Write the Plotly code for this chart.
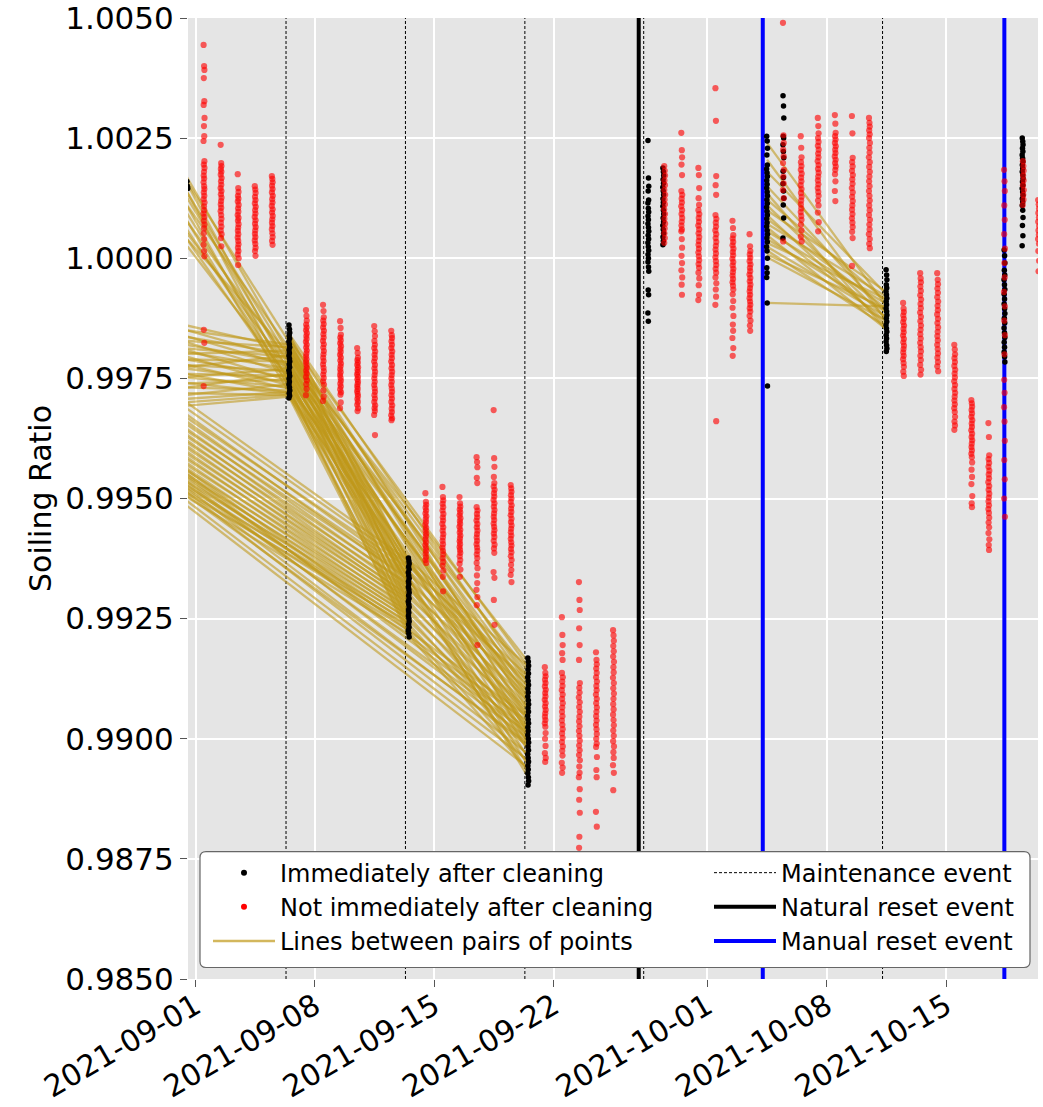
import plotly.graph_objects as go
from datetime import datetime, timedelta

# ---------------- data ----------------
# Soiling ratio samples taken during the day (value lists, one per day)
black_0831 = [1.00160, 1.00150, 1.00145]
red_0901 = [1.00444, 1.00400, 1.00392, 1.00375, 1.00327, 1.00319, 1.00292, 1.00275, 1.00254, 1.00244,
            1.00202, 1.00195, 1.00188, 1.00180, 1.00172, 1.00166, 1.00158, 1.00150, 1.00144, 1.00137,
            1.00130, 1.00123, 1.00116, 1.00108, 1.00100, 1.00093, 1.00086, 1.00078, 1.00070, 1.00062,
            1.00052, 1.00040, 1.00028, 1.00015, 1.00004, 0.99851, 0.99824, 0.99734]
red_0902 = [1.00236, 1.00198, 1.00192, 1.00186, 1.00180, 1.00174, 1.00167, 1.00160, 1.00153, 1.00146,
            1.00140, 1.00133, 1.00126, 1.00119, 1.00112, 1.00105, 1.00098, 1.00090, 1.00082, 1.00074,
            1.00066, 1.00058, 1.00050, 1.00042, 1.00025]
red_0903 = [1.00175, 1.00146, 1.00138, 1.00130, 1.00124, 1.00118, 1.00111, 1.00104, 1.00097, 1.00090,
            1.00084, 1.00078, 1.00071, 1.00064, 1.00057, 1.00050, 1.00043, 1.00036, 1.00029, 1.00022,
            1.00015, 1.00008, 1.00000, 0.99986]
red_0904 = [1.00150, 1.00143, 1.00136, 1.00128, 1.00121, 1.00114, 1.00107, 1.00100, 1.00093, 1.00086,
            1.00079, 1.00072, 1.00065, 1.00058, 1.00051, 1.00044, 1.00037, 1.00030, 1.00022, 1.00015, 1.00005]
red_0905 = [1.00171, 1.00165, 1.00158, 1.00151, 1.00144, 1.00137, 1.00130, 1.00123, 1.00116, 1.00109,
            1.00102, 1.00095, 1.00088, 1.00081, 1.00074, 1.00067, 1.00060, 1.00052, 1.00044, 1.00036, 1.00028]
black_0906 = [0.99861, 0.99852, 0.99845, 0.99839, 0.99833, 0.99827, 0.99821, 0.99815, 0.99809, 0.99803,
              0.99797, 0.99791, 0.99785, 0.99779, 0.99773, 0.99767, 0.99761, 0.99755, 0.99749, 0.99743,
              0.99737, 0.99731, 0.99725, 0.99719, 0.99714, 0.99709]
red_0907 = [0.99892, 0.99880, 0.99870, 0.99862, 0.99856, 0.99850, 0.99844, 0.99838, 0.99832, 0.99826,
            0.99820, 0.99814, 0.99808, 0.99802, 0.99796, 0.99790, 0.99784, 0.99778, 0.99772, 0.99766,
            0.99760, 0.99753, 0.99746, 0.99738, 0.99728, 0.99715]
red_0908 = [0.99903, 0.99890, 0.99877, 0.99870, 0.99863, 0.99856, 0.99849, 0.99842, 0.99835, 0.99828,
            0.99821, 0.99814, 0.99807, 0.99800, 0.99793, 0.99786, 0.99779, 0.99772, 0.99765, 0.99758,
            0.99751, 0.99744, 0.99737, 0.99725, 0.99712, 0.99703]
red_0909 = [0.99869, 0.99855, 0.99841, 0.99835, 0.99829, 0.99823, 0.99817, 0.99811, 0.99805, 0.99799,
            0.99793, 0.99787, 0.99781, 0.99775, 0.99769, 0.99763, 0.99757, 0.99751, 0.99745, 0.99739,
            0.99733, 0.99727, 0.99721, 0.99716, 0.99700, 0.99688]
red_0910 = [0.99813, 0.99803, 0.99793, 0.99788, 0.99783, 0.99778, 0.99773, 0.99768, 0.99763, 0.99758,
            0.99753, 0.99748, 0.99743, 0.99738, 0.99733, 0.99728, 0.99723, 0.99718, 0.99713, 0.99707,
            0.99701, 0.99695, 0.99688, 0.99682]
red_0911 = [0.99859, 0.99848, 0.99838, 0.99828, 0.99820, 0.99813, 0.99806, 0.99799, 0.99792, 0.99785,
            0.99778, 0.99771, 0.99764, 0.99757, 0.99750, 0.99743, 0.99736, 0.99729, 0.99722, 0.99715,
            0.99708, 0.99701, 0.99694, 0.99688, 0.99682, 0.99674, 0.99632]
red_0912 = [0.99849, 0.99840, 0.99834, 0.99827, 0.99820, 0.99813, 0.99806, 0.99799, 0.99792, 0.99785,
            0.99778, 0.99771, 0.99764, 0.99757, 0.99750, 0.99743, 0.99736, 0.99729, 0.99722, 0.99715,
            0.99708, 0.99701, 0.99694, 0.99687, 0.99680, 0.99673, 0.99667, 0.99663]
black_0913 = [0.99376, 0.99370, 0.99364, 0.99358, 0.99352, 0.99346, 0.99340, 0.99334, 0.99328, 0.99322,
              0.99316, 0.99310, 0.99304, 0.99298, 0.99292, 0.99286, 0.99280, 0.99274, 0.99268, 0.99262,
              0.99256, 0.99250, 0.99244, 0.99238, 0.99232, 0.99226, 0.99219, 0.99212]
red_0914 = [0.99511, 0.99493, 0.99487, 0.99481, 0.99475, 0.99469, 0.99463, 0.99457, 0.99451, 0.99445,
            0.99439, 0.99433, 0.99427, 0.99421, 0.99415, 0.99409, 0.99403, 0.99397, 0.99391, 0.99385,
            0.99378, 0.99372, 0.99366]
red_0915 = [0.99524, 0.99503, 0.99496, 0.99489, 0.99482, 0.99475, 0.99468, 0.99461, 0.99454, 0.99447,
            0.99440, 0.99433, 0.99426, 0.99419, 0.99412, 0.99405, 0.99398, 0.99391, 0.99384, 0.99376,
            0.99368, 0.99360, 0.99350, 0.99337, 0.99307]
red_0916 = [0.99503, 0.99490, 0.99483, 0.99477, 0.99471, 0.99465, 0.99459, 0.99453, 0.99447, 0.99441,
            0.99435, 0.99429, 0.99423, 0.99417, 0.99411, 0.99405, 0.99399, 0.99393, 0.99387, 0.99380,
            0.99372, 0.99364, 0.99352, 0.99337]
red_0917 = [0.99586, 0.99576, 0.99565, 0.99543, 0.99532, 0.99482, 0.99475, 0.99468, 0.99461, 0.99454,
            0.99447, 0.99440, 0.99433, 0.99426, 0.99419, 0.99412, 0.99405, 0.99398, 0.99391, 0.99384,
            0.99376, 0.99366, 0.99355, 0.99340, 0.99324, 0.99310, 0.99295, 0.99278, 0.99195]
red_0918 = [0.99684, 0.99584, 0.99566, 0.99545, 0.99532, 0.99525, 0.99518, 0.99511, 0.99504, 0.99497,
            0.99490, 0.99483, 0.99476, 0.99469, 0.99462, 0.99455, 0.99448, 0.99441, 0.99434, 0.99427,
            0.99420, 0.99412, 0.99404, 0.99396, 0.99387, 0.99347, 0.99335, 0.99289, 0.99237]
red_0919 = [0.99528, 0.99521, 0.99514, 0.99507, 0.99500, 0.99493, 0.99486, 0.99479, 0.99472, 0.99465,
            0.99458, 0.99451, 0.99444, 0.99437, 0.99430, 0.99423, 0.99416, 0.99409, 0.99402, 0.99395,
            0.99388, 0.99380, 0.99372, 0.99362, 0.99351, 0.99341, 0.99326]
black_0920 = [0.99168, 0.99160, 0.99152, 0.99144, 0.99136, 0.99128, 0.99120, 0.99112, 0.99104, 0.99096,
              0.99088, 0.99080, 0.99072, 0.99064, 0.99056, 0.99048, 0.99040, 0.99032, 0.99024, 0.99016,
              0.99008, 0.99000, 0.98992, 0.98984, 0.98976, 0.98968, 0.98960, 0.98952, 0.98944, 0.98936,
              0.98928, 0.98920, 0.98912, 0.98904]
red_0921 = [0.99149, 0.99137, 0.99130, 0.99123, 0.99116, 0.99109, 0.99102, 0.99095, 0.99088, 0.99081,
            0.99074, 0.99067, 0.99060, 0.99053, 0.99046, 0.99039, 0.99032, 0.99025, 0.99012, 0.99000,
            0.98985, 0.98970, 0.98960, 0.98952]
red_0922 = [0.99253, 0.99216, 0.99195, 0.99178, 0.99164, 0.99137, 0.99128, 0.99119, 0.99110, 0.99101,
            0.99092, 0.99083, 0.99074, 0.99065, 0.99056, 0.99047, 0.99038, 0.99029, 0.99020, 0.99011,
            0.99002, 0.98993, 0.98984, 0.98975, 0.98965, 0.98950, 0.98940, 0.98929]
red_0923 = [0.99326, 0.99289, 0.99268, 0.99230, 0.99195, 0.99164, 0.99116, 0.99106, 0.99096, 0.99086,
            0.99076, 0.99066, 0.99056, 0.99046, 0.99036, 0.99026, 0.99016, 0.99006, 0.98996, 0.98986,
            0.98976, 0.98966, 0.98955, 0.98942, 0.98929, 0.98920, 0.98895, 0.98873, 0.98846, 0.98796,
            0.98773]
red_0924 = [0.99180, 0.99164, 0.99155, 0.99146, 0.99137, 0.99128, 0.99119, 0.99110, 0.99101, 0.99092,
            0.99083, 0.99074, 0.99065, 0.99056, 0.99047, 0.99038, 0.99029, 0.99020, 0.99010, 0.99000,
            0.98990, 0.98983, 0.98962, 0.98935, 0.98920, 0.98848, 0.98817]
red_0925 = [0.99226, 0.99215, 0.99204, 0.99193, 0.99182, 0.99171, 0.99160, 0.99149, 0.99138, 0.99127,
            0.99116, 0.99105, 0.99094, 0.99083, 0.99072, 0.99061, 0.99050, 0.99039, 0.99028, 0.99017,
            0.99006, 0.98995, 0.98984, 0.98972, 0.98960, 0.98945, 0.98929, 0.98893]
black_0927 = [1.00245, 1.00167, 1.00150, 1.00140, 1.00121, 1.00115, 1.00104, 1.00096, 1.00088, 1.00080,
              1.00072, 1.00064, 1.00056, 1.00048, 1.00040, 1.00032, 1.00024, 1.00016, 1.00008, 1.00000,
              0.99992, 0.99982, 0.99973, 0.99934, 0.99924, 0.99886, 0.99869]
black_0928 = [1.00188, 1.00180, 1.00172, 1.00164, 1.00156, 1.00148, 1.00140, 1.00132, 1.00124, 1.00116,
              1.00108, 1.00100, 1.00092, 1.00084, 1.00076, 1.00068, 1.00060, 1.00052, 1.00044, 1.00036,
              1.00028]
red_0928 = [1.00192, 1.00182, 1.00172, 1.00162, 1.00152, 1.00142, 1.00132, 1.00122, 1.00112, 1.00102,
            1.00092, 1.00082, 1.00072, 1.00062, 1.00052, 1.00042, 1.00032]
red_0929 = [1.00261, 1.00225, 1.00210, 1.00195, 1.00173, 1.00140, 1.00132, 1.00124, 1.00116, 1.00108,
            1.00100, 1.00092, 1.00084, 1.00076, 1.00068, 1.00060, 1.00056, 1.00040, 1.00022, 1.00005,
            0.99990, 0.99975, 0.99960, 0.99945, 0.99924]
red_0930 = [1.00188, 1.00173, 1.00146, 1.00125, 1.00111, 1.00100, 1.00092, 1.00084, 1.00076, 1.00068,
            1.00060, 1.00052, 1.00044, 1.00036, 1.00028, 1.00020, 1.00012, 1.00004, 0.99996, 0.99988,
            0.99980, 0.99970, 0.99958, 0.99944, 0.99924, 0.99913]
red_1001 = [1.00354, 1.00286, 1.00171, 1.00152, 1.00132, 1.00090, 1.00082, 1.00074, 1.00066, 1.00058,
            1.00050, 1.00042, 1.00034, 1.00026, 1.00018, 1.00010, 1.00002, 0.99994, 0.99986, 0.99978,
            0.99970, 0.99960, 0.99948, 0.99935, 0.99920, 0.99903, 0.99661]
red_1002 = [1.00078, 1.00063, 1.00048, 1.00041, 1.00034, 1.00027, 1.00020, 1.00013, 1.00006, 0.99999,
            0.99992, 0.99985, 0.99978, 0.99971, 0.99964, 0.99957, 0.99950, 0.99943, 0.99935, 0.99925,
            0.99911, 0.99897, 0.99880, 0.99862, 0.99849, 0.99834, 0.99813, 0.99797]
red_1003 = [1.00050, 1.00025, 1.00015, 1.00008, 1.00001, 0.99994, 0.99987, 0.99980, 0.99973, 0.99966,
            0.99959, 0.99952, 0.99945, 0.99938, 0.99931, 0.99924, 0.99917, 0.99910, 0.99903, 0.99896,
            0.99889, 0.99880, 0.99870, 0.99860, 0.99849]
black_1004 = [1.00254, 1.00244, 1.00229, 1.00215, 1.00194, 1.00186, 1.00178, 1.00170, 1.00162, 1.00154,
              1.00146, 1.00138, 1.00130, 1.00122, 1.00114, 1.00106, 1.00098, 1.00090, 1.00082, 1.00074,
              1.00066, 1.00058, 1.00050, 1.00042, 1.00034, 1.00024, 1.00015, 1.00000, 0.99980, 0.99970,
              0.99960, 0.99907, 0.99734]
black_1005 = [1.00338, 1.00317, 1.00292, 1.00254, 1.00250, 1.00236, 1.00222, 1.00209, 1.00181, 1.00168,
              1.00155, 1.00140, 1.00125, 1.00111, 1.00084, 1.00042]
red_1005 = [1.00490, 1.00256, 1.00240, 1.00226, 1.00212, 1.00198, 1.00184, 1.00170, 1.00156, 1.00142,
            1.00125, 1.00035]
red_1006 = [1.00254, 1.00230, 1.00210, 1.00200, 1.00192, 1.00184, 1.00176, 1.00168, 1.00160, 1.00152,
            1.00144, 1.00136, 1.00128, 1.00120, 1.00112, 1.00104, 1.00096, 1.00088, 1.00080, 1.00070,
            1.00058, 1.00045, 1.00035]
red_1007 = [1.00292, 1.00275, 1.00260, 1.00250, 1.00242, 1.00234, 1.00226, 1.00218, 1.00210, 1.00202,
            1.00194, 1.00186, 1.00178, 1.00170, 1.00162, 1.00154, 1.00146, 1.00138, 1.00130, 1.00120,
            1.00110, 1.00095, 1.00075, 1.00056]
red_1008 = [1.00298, 1.00280, 1.00261, 1.00254, 1.00247, 1.00240, 1.00233, 1.00226, 1.00219, 1.00212,
            1.00205, 1.00198, 1.00191, 1.00184, 1.00175, 1.00160, 1.00140, 1.00119]
red_1009 = [1.00296, 1.00260, 1.00209, 1.00200, 1.00191, 1.00182, 1.00173, 1.00164, 1.00155, 1.00146,
            1.00137, 1.00128, 1.00119, 1.00110, 1.00101, 1.00092, 1.00083, 1.00074, 1.00065, 1.00055,
            1.00042, 0.99984]
red_1010 = [1.00292, 1.00282, 1.00274, 1.00266, 1.00258, 1.00250, 1.00240, 1.00230, 1.00220, 1.00210,
            1.00200, 1.00190, 1.00180, 1.00170, 1.00160, 1.00150, 1.00140, 1.00130, 1.00120, 1.00110,
            1.00100, 1.00090, 1.00080, 1.00070, 1.00060, 1.00050, 1.00040, 1.00030, 1.00021]
black_1011 = [0.99976, 0.99965, 0.99955, 0.99945, 0.99938, 0.99931, 0.99924, 0.99917, 0.99910, 0.99903,
              0.99896, 0.99889, 0.99882, 0.99875, 0.99868, 0.99861, 0.99854, 0.99847, 0.99840, 0.99833,
              0.99826, 0.99819, 0.99812, 0.99806]
red_1012 = [0.99907, 0.99895, 0.99888, 0.99881, 0.99874, 0.99867, 0.99860, 0.99853, 0.99846, 0.99839,
            0.99832, 0.99825, 0.99818, 0.99811, 0.99804, 0.99797, 0.99790, 0.99782, 0.99774, 0.99764,
            0.99755]
red_1013 = [0.99969, 0.99958, 0.99950, 0.99941, 0.99932, 0.99923, 0.99914, 0.99905, 0.99896, 0.99887,
            0.99878, 0.99869, 0.99860, 0.99851, 0.99842, 0.99833, 0.99824, 0.99815, 0.99806, 0.99797,
            0.99788, 0.99778, 0.99768, 0.99758]
red_1014 = [0.99969, 0.99955, 0.99946, 0.99937, 0.99928, 0.99919, 0.99910, 0.99901, 0.99892, 0.99883,
            0.99874, 0.99865, 0.99856, 0.99847, 0.99838, 0.99829, 0.99820, 0.99811, 0.99802, 0.99793,
            0.99784, 0.99775, 0.99765]
red_1015 = [0.99820, 0.99810, 0.99800, 0.99792, 0.99784, 0.99776, 0.99768, 0.99760, 0.99752, 0.99744,
            0.99736, 0.99728, 0.99720, 0.99712, 0.99704, 0.99696, 0.99688, 0.99680, 0.99670, 0.99660,
            0.99652, 0.99643]
red_1016 = [0.99705, 0.99698, 0.99691, 0.99684, 0.99677, 0.99670, 0.99663, 0.99656, 0.99649, 0.99642,
            0.99635, 0.99628, 0.99621, 0.99614, 0.99607, 0.99600, 0.99593, 0.99586, 0.99575, 0.99560,
            0.99545, 0.99530, 0.99505, 0.99490, 0.99482]
red_1017 = [0.99657, 0.99628, 0.99590, 0.99582, 0.99574, 0.99566, 0.99558, 0.99550, 0.99542, 0.99534,
            0.99526, 0.99518, 0.99510, 0.99502, 0.99494, 0.99486, 0.99478, 0.99470, 0.99460, 0.99450,
            0.99440, 0.99428, 0.99415, 0.99403, 0.99393]
black_1018 = [1.00017, 1.00005, 0.99990, 0.99975, 0.99965, 0.99955, 0.99945, 0.99935, 0.99925, 0.99915,
              0.99905, 0.99895, 0.99885, 0.99875, 0.99865, 0.99855, 0.99845, 0.99835, 0.99825, 0.99815,
              0.99805, 0.99795, 0.99784]
red_1018 = [1.00184, 1.00160, 1.00140, 1.00110, 1.00080, 1.00050, 1.00020, 0.99990, 0.99960, 0.99930,
            0.99900, 0.99870, 0.99840, 0.99800, 0.99747, 0.99720, 0.99690, 0.99660, 0.99620, 0.99580,
            0.99540, 0.99500, 0.99462]
black_1019 = [1.00250, 1.00243, 1.00236, 1.00229, 1.00222, 1.00215, 1.00208, 1.00201, 1.00194, 1.00187,
              1.00180, 1.00173, 1.00166, 1.00159, 1.00152, 1.00145, 1.00138, 1.00131, 1.00124, 1.00117,
              1.00110, 1.00100, 1.00085, 1.00068, 1.00047, 1.00026]
red_1019 = [1.00202, 1.00192, 1.00182, 1.00172, 1.00162, 1.00152, 1.00142, 1.00132, 1.00122, 1.00111]
red_1020 = [1.00121, 1.00112, 1.00103, 1.00094, 1.00085, 1.00076, 1.00067, 1.00058, 1.00049, 1.00040,
            1.00030, 1.00015, 0.99995, 0.99973]

# sampling window centre for each day and its value list
black_times = ["2021-08-31 12:30", "2021-09-06 12:00", "2021-09-13 12:00", "2021-09-20 12:00",
               "2021-09-27 13:00", "2021-09-28 10:00", "2021-10-04 12:00", "2021-10-05 11:00",
               "2021-10-11 12:00", "2021-10-18 10:00", "2021-10-19 11:30"]
black_series = [black_0831, black_0906, black_0913, black_0920, black_0927, black_0928,
                black_1004, black_1005, black_1011, black_1018, black_1019]
red_times = ["2021-09-01 12:00", "2021-09-02 12:00", "2021-09-03 12:00", "2021-09-04 12:00",
             "2021-09-05 12:00", "2021-09-07 12:00", "2021-09-08 12:00", "2021-09-09 12:00",
             "2021-09-10 12:00", "2021-09-11 12:00", "2021-09-12 12:00", "2021-09-14 12:00",
             "2021-09-15 12:00", "2021-09-16 12:00", "2021-09-17 12:00", "2021-09-18 12:00",
             "2021-09-19 12:00", "2021-09-21 12:00", "2021-09-22 12:00", "2021-09-23 12:00",
             "2021-09-24 12:00", "2021-09-25 12:00", "2021-09-28 12:00", "2021-09-29 12:00",
             "2021-09-30 12:00", "2021-10-01 12:00", "2021-10-02 12:00", "2021-10-03 12:00",
             "2021-10-05 11:00", "2021-10-06 12:00", "2021-10-07 12:00", "2021-10-08 12:00",
             "2021-10-09 12:00", "2021-10-10 12:00", "2021-10-12 12:00", "2021-10-13 12:00",
             "2021-10-14 12:00", "2021-10-15 12:00", "2021-10-16 12:00", "2021-10-17 12:00",
             "2021-10-18 10:00", "2021-10-19 12:30", "2021-10-20 10:00"]
red_series = [red_0901, red_0902, red_0903, red_0904, red_0905, red_0907, red_0908, red_0909,
              red_0910, red_0911, red_0912, red_0914, red_0915, red_0916, red_0917, red_0918,
              red_0919, red_0921, red_0922, red_0923, red_0924, red_0925, red_0928, red_0929,
              red_0930, red_1001, red_1002, red_1003, red_1005, red_1006, red_1007, red_1008,
              red_1009, red_1010, red_1012, red_1013, red_1014, red_1015, red_1016, red_1017,
              red_1018, red_1019, red_1020]

# spread of sample times (hours) around each window centre
red_hour_offsets = [-0.6, 0.1, 0.5, -0.3, 0.4, -0.5, 0.7, -0.1, 0.3, -0.7, 0.5, -0.3, 0.6, 0.0, -0.4, 0.2]
black_hour_offsets = [-0.5, 0.2, 0.6, -0.2, 0.4, -0.6, 0.0, 0.5, -0.4, 0.1]

# paired points: (start time, end time, start values, end values)
pairs_a_start = [0.99868, 0.99860, 0.99855, 0.99848, 0.99842, 0.99836, 0.99830, 0.99826, 0.99820, 0.99815,
                 0.99810, 0.99805, 0.99800, 0.99795, 0.99790, 0.99786, 0.99780, 0.99775, 0.99770, 0.99765,
                 0.99760, 0.99755, 0.99750, 0.99744, 0.99738, 0.99732, 0.99726, 0.99720, 0.99712, 0.99705,
                 0.99698, 0.99690]
pairs_a_end = [0.99812, 0.99790, 0.99820, 0.99775, 0.99800, 0.99760, 0.99815, 0.99782, 0.99745, 0.99795,
               0.99770, 0.99735, 0.99808, 0.99752, 0.99785, 0.99728, 0.99765, 0.99742, 0.99798, 0.99720,
               0.99755, 0.99732, 0.99770, 0.99718, 0.99748, 0.99725, 0.99760, 0.99715, 0.99738, 0.99722,
               0.99716, 0.99712]
pairs_b_start = [1.00230, 1.00222, 1.00215, 1.00205, 1.00195, 1.00185, 1.00172, 1.00160, 1.00150, 1.00138,
                 1.00125, 1.00112, 1.00100, 1.00090, 1.00080, 1.00072]
pairs_b_end = [0.99800, 0.99760, 0.99825, 0.99740, 0.99790, 0.99775, 0.99730, 0.99812, 0.99755, 0.99720,
               0.99785, 0.99745, 0.99768, 0.99735, 0.99800, 0.99750]
pairs_c_start = [0.99725, 0.99712, 0.99700, 0.99692, 0.99685, 0.99678, 0.99670, 0.99664, 0.99658, 0.99652,
                 0.99646, 0.99640, 0.99634, 0.99628, 0.99622, 0.99616, 0.99610, 0.99604, 0.99598, 0.99592,
                 0.99586, 0.99580, 0.99574, 0.99568, 0.99562, 0.99556, 0.99550, 0.99544, 0.99538, 0.99532,
                 0.99525]
pairs_c_end = [0.99370, 0.99362, 0.99345, 0.99355, 0.99330, 0.99340, 0.99318, 0.99335, 0.99305, 0.99322,
               0.99296, 0.99312, 0.99288, 0.99300, 0.99280, 0.99292, 0.99270, 0.99284, 0.99262, 0.99275,
               0.99255, 0.99266, 0.99248, 0.99258, 0.99240, 0.99250, 0.99232, 0.99242, 0.99225, 0.99235,
               0.99218]
pairs_d_start = [0.99585, 0.99578, 0.99570, 0.99562, 0.99555, 0.99548, 0.99540, 0.99532, 0.99522, 0.99512]
pairs_d_end = [0.99045, 0.99020, 0.99035, 0.99000, 0.99012, 0.98985, 0.98968, 0.98990, 0.98955, 0.98940]
pairs_e_start = [0.99840, 0.99835, 0.99828, 0.99822, 0.99816, 0.99810, 0.99803, 0.99797, 0.99790, 0.99784,
                 0.99778, 0.99771, 0.99765, 0.99759, 0.99752, 0.99746, 0.99740, 0.99733, 0.99727, 0.99721,
                 0.99715, 0.99710, 0.99806, 0.99775, 0.99755, 0.99730]
pairs_e_end = [0.99365, 0.99300, 0.99340, 0.99280, 0.99355, 0.99310, 0.99262, 0.99330, 0.99290, 0.99345,
               0.99250, 0.99318, 0.99272, 0.99335, 0.99240, 0.99300, 0.99258, 0.99322, 0.99232, 0.99285,
               0.99245, 0.99225, 0.99370, 0.99360, 0.99350, 0.99215]
pairs_f_start = [0.99842, 0.99836, 0.99830, 0.99824, 0.99818, 0.99812, 0.99806, 0.99800, 0.99794, 0.99788,
                 0.99782, 0.99776, 0.99770, 0.99764, 0.99758, 0.99752, 0.99746, 0.99740, 0.99734, 0.99728,
                 0.99722, 0.99716, 0.99712, 0.99798, 0.99768, 0.99744]
pairs_f_end = [0.99120, 0.99060, 0.99150, 0.99010, 0.99095, 0.99040, 0.99130, 0.98990, 0.99075, 0.99115,
               0.99020, 0.99085, 0.98975, 0.99050, 0.99105, 0.99000, 0.99070, 0.98960, 0.99035, 0.99090,
               0.98945, 0.99015, 0.98930, 0.99160, 0.99140, 0.98920]
pairs_g_start = [0.99372, 0.99365, 0.99358, 0.99350, 0.99342, 0.99334, 0.99326, 0.99318, 0.99310, 0.99302,
                 0.99294, 0.99286, 0.99278, 0.99270, 0.99262, 0.99254, 0.99246, 0.99238, 0.99230, 0.99222,
                 0.99215]
pairs_g_end = [0.99150, 0.99110, 0.99130, 0.99085, 0.99120, 0.99065, 0.99100, 0.99050, 0.99080, 0.99030,
               0.99060, 0.99010, 0.99045, 0.98995, 0.99025, 0.98980, 0.99005, 0.98965, 0.98990, 0.98950,
               0.98935]
pairs_h_start = [1.00240, 1.00205, 1.00180, 1.00150, 1.00135, 1.00122, 1.00110, 1.00100, 1.00090, 1.00082,
                 1.00072, 1.00064, 1.00056, 1.00048, 1.00040, 1.00032, 1.00024, 1.00016, 1.00008, 1.00002,
                 0.99907]
pairs_h_end = [0.99900, 0.99870, 0.99925, 0.99885, 0.99850, 0.99910, 0.99875, 0.99930, 0.99860, 0.99895,
               0.99920, 0.99868, 0.99905, 0.99852, 0.99888, 0.99915, 0.99878, 0.99858, 0.99895, 0.99870,
               0.99900]
pair_groups = [
    ("2021-08-30 12:00", "2021-09-06 12:00", pairs_a_start, pairs_a_end),
    ("2021-08-30 12:00", "2021-09-06 12:00", pairs_b_start, pairs_b_end),
    ("2021-08-30 12:00", "2021-09-13 12:00", pairs_c_start, pairs_c_end),
    ("2021-08-30 12:00", "2021-09-20 12:00", pairs_d_start, pairs_d_end),
    ("2021-09-06 12:00", "2021-09-13 12:00", pairs_e_start, pairs_e_end),
    ("2021-09-06 12:00", "2021-09-20 12:00", pairs_f_start, pairs_f_end),
    ("2021-09-13 12:00", "2021-09-20 12:00", pairs_g_start, pairs_g_end),
    ("2021-10-04 12:00", "2021-10-11 12:00", pairs_h_start, pairs_h_end),
]

# event markers
maintenance_times = ["2021-09-06 07:20", "2021-09-13 07:20", "2021-09-20 07:20",
                     "2021-09-27 06:30", "2021-10-11 06:30"]
natural_reset_times = ["2021-09-26 23:30"]
manual_reset_times = ["2021-10-04 06:00", "2021-10-18 09:50"]

y_ticks = [0.985, 0.9875, 0.99, 0.9925, 0.995, 0.9975, 1.0, 1.0025, 1.005]
x_ticks = ["2021-09-01", "2021-09-08", "2021-09-15", "2021-09-22",
           "2021-10-01", "2021-10-08", "2021-10-15"]
x_range = ["2021-08-31 13:27", "2021-10-20 09:10"]
y_range = [0.985, 1.005]

# ---------------- figure ----------------
FONT = "DejaVu Sans"
GOLD = "rgba(192,152,24,0.58)"
PLOT_L, PLOT_R, PLOT_T, PLOT_B = 188, 1038, 18, 979.5   # plot area in page pixels
PW, PH = PLOT_R - PLOT_L, PLOT_B - PLOT_T


def px_x(x):
    return (x - PLOT_L) / PW


def px_y(y):
    return (PLOT_B - y) / PH


def spread(times, series, offsets):
    xs, ys = [], []
    for t, vals in zip(times, series):
        centre = datetime.fromisoformat(t)
        for i, v in enumerate(vals):
            xs.append(centre + timedelta(hours=offsets[i % len(offsets)]))
            ys.append(v)
    return xs, ys


def vertical_lines(times):
    xs, ys = [], []
    for t in times:
        xs += [t, t, None]
        ys += [y_range[0], y_range[1], None]
    return xs, ys


fig = go.Figure()

# vertical event lines (legend column 2)
for times, name, color, width, dash, rank in [
    (maintenance_times, "Maintenance event", "black", 1, "3px,2px", 1),
    (natural_reset_times, "Natural reset event", "black", 4, "solid", 2),
    (manual_reset_times, "Manual reset event", "#0000ff", 4, "solid", 3),
]:
    vx, vy = vertical_lines(times)
    fig.add_trace(go.Scatter(x=vx, y=vy, mode="lines", name=name,
                             line=dict(color=color, width=width, dash=dash),
                             legend="legend2", legendrank=rank, hoverinfo="skip"))

# lines between paired points, one trace each so overlaps build up
for t0, t1, starts, ends in pair_groups:
    for s, e in zip(starts, ends):
        fig.add_trace(go.Scatter(x=[t0, t1], y=[s, e], mode="lines",
                                 line=dict(color=GOLD, width=2.3),
                                 showlegend=False, hoverinfo="skip"))

bx, by = spread(black_times, black_series, black_hour_offsets)
fig.add_trace(go.Scatter(x=bx, y=by, mode="markers", showlegend=False,
                         marker=dict(color="black", size=5.5, line=dict(width=0))))
rx, ry = spread(red_times, red_series, red_hour_offsets)
fig.add_trace(go.Scatter(x=rx, y=ry, mode="markers", showlegend=False,
                         marker=dict(color="red", size=6.2, opacity=0.62, line=dict(width=0))))

# legend column 1 entries
fig.add_trace(go.Scatter(x=[None], y=[None], mode="markers", name="Immediately after cleaning",
                         marker=dict(color="black", size=6), legend="legend", legendrank=1))
fig.add_trace(go.Scatter(x=[None], y=[None], mode="markers", name="Not immediately after cleaning",
                         marker=dict(color="red", size=6), legend="legend", legendrank=2))
fig.add_trace(go.Scatter(x=[None], y=[None], mode="lines", name="Lines between pairs of points",
                         line=dict(color="rgba(192,152,24,0.7)", width=2.5),
                         legend="legend", legendrank=3))

# legend frame (rounded rectangle in paper coordinates)
x0, x1 = px_x(200), px_x(1030)
y0, y1 = px_y(968), px_y(852)
rx_, ry_ = 6 / PW, 6 / PH
frame = (f"M{x0 + rx_},{y1} L{x1 - rx_},{y1} Q{x1},{y1} {x1},{y1 - ry_} "
         f"L{x1},{y0 + ry_} Q{x1},{y0} {x1 - rx_},{y0} L{x0 + rx_},{y0} "
         f"Q{x0},{y0} {x0},{y0 + ry_} L{x0},{y1 - ry_} Q{x0},{y1} {x0 + rx_},{y1} Z")
fig.add_shape(type="path", path=frame, xref="paper", yref="paper", layer="above",
              fillcolor="white", line=dict(color="#666666", width=1.2))

legend_common = dict(xanchor="left", yanchor="top", bgcolor="rgba(0,0,0,0)", borderwidth=0,
                     font=dict(family=FONT, size=24, color="black"), itemwidth=62,
                     traceorder="normal", tracegroupgap=0)

fig.update_layout(
    width=1043, height=1107,
    margin=dict(l=PLOT_L, r=1043 - PLOT_R, t=PLOT_T, b=1107 - PLOT_B, autoexpand=False),
    paper_bgcolor="white", plot_bgcolor="#E5E5E5",
    font=dict(family=FONT, color="black"),
    showlegend=True,
    legend=dict(x=px_x(208), y=px_y(851), **legend_common),
    legend2=dict(x=px_x(709), y=px_y(851), **legend_common),
    xaxis=dict(type="date", range=x_range, tickvals=x_ticks, ticktext=x_ticks,
               tickangle=-30, tickfont=dict(family=FONT, size=30, color="black"),
               ticks="outside", ticklen=7, tickwidth=1.2, tickcolor="#555555",
               ticklabelstandoff=-10, ticklabeloverflow="allow",
               showgrid=True, gridcolor="white", gridwidth=1.5,
               zeroline=False, showline=False, automargin=False),
    yaxis=dict(range=y_range, tickvals=y_ticks, tickformat=".4f",
               tickfont=dict(family=FONT, size=31, color="black"),
               ticks="outside", ticklen=7, tickwidth=1.2, tickcolor="#555555",
               ticklabeloverflow="allow",
               showgrid=True, gridcolor="white", gridwidth=1.5,
               zeroline=False, showline=False, automargin=False,
               title=dict(text="Soiling Ratio", font=dict(family=FONT, size=30, color="black"),
                          standoff=4)),
)

fig.write_html("out.html")
